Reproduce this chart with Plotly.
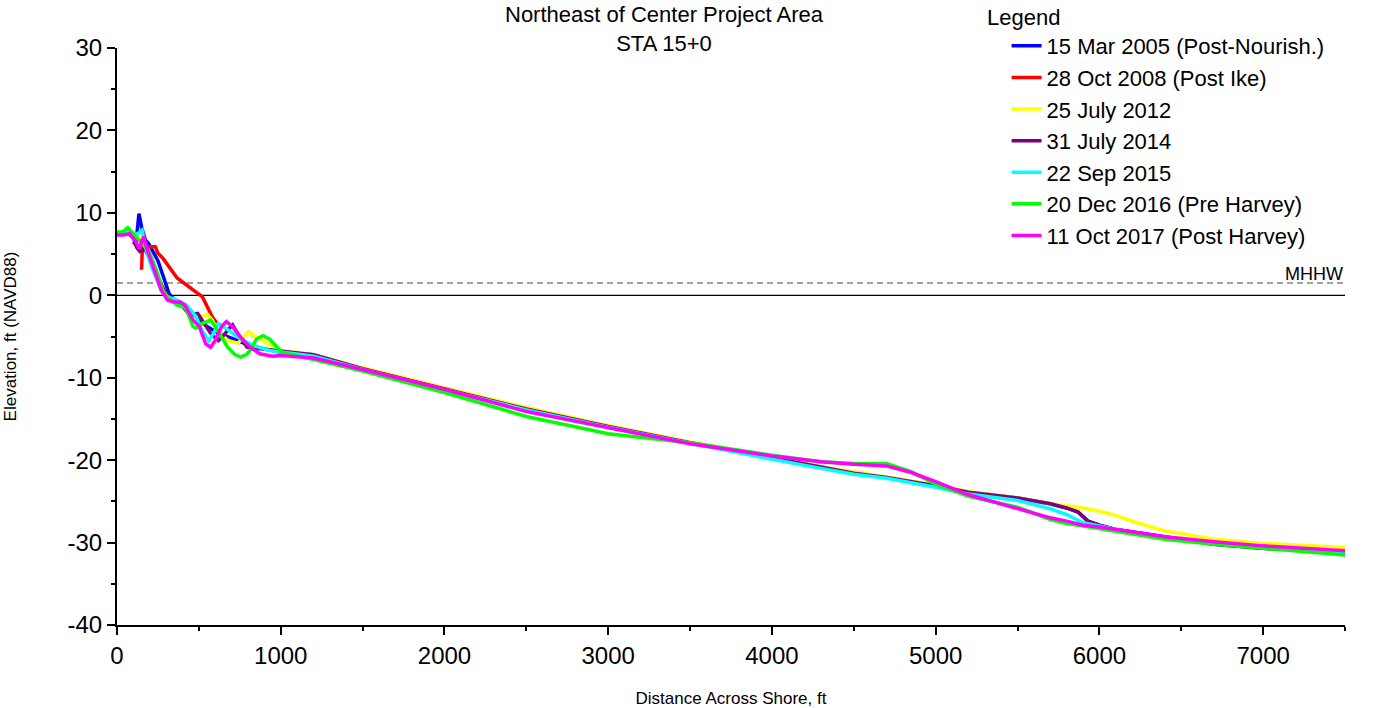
import plotly.graph_objects as go

# ---------------- data ----------------
names = ["15 Mar 2005 (Post-Nourish.)", "28 Oct 2008 (Post Ike)", "25 July 2012",
         "31 July 2014", "22 Sep 2015", "20 Dec 2016 (Pre Harvey)", "11 Oct 2017 (Post Harvey)"]
colors = ["#0000FF", "#FF0000", "#FFFF00", "#800080", "#00FFFF", "#00FF00", "#FF00FF"]

off_x = [1200, 1500, 2000, 2500, 3000, 3500, 4000, 4300, 4500, 4700, 4850, 5000, 5200,
         5500, 5700, 5800, 5900, 6000, 6100, 6200, 6400, 6700, 7000, 7500]

x2005 = [100, 115, 134, 151, 173, 192, 250, 289, 318, 360, 420, 480, 550, 620, 700, 800, 900, 1000,
         1200, 1500, 2000, 2500, 3000, 3500, 4000, 4300, 4500, 4700, 4850, 5000, 5200, 5500,
         5700, 5800, 5870, 5930, 6000, 6100, 6200, 6400, 6700, 7000, 7500]
y2005 = [6.5, 6.1, 9.9, 8.2, 6.7, 6.3, 4.2, 1.8, 0.2, -0.8, -1.5, -2.5, -3.8, -4.6, -5.2, -6.0, -6.5, -6.9,
         -7.2, -8.9, -11.3, -13.8, -15.9, -17.9, -19.7, -20.9, -21.6, -22.1, -22.6, -23.1, -23.9,
         -24.6, -25.3, -25.8, -26.3, -27.4, -27.9, -28.4, -28.7, -29.3, -30.2, -30.7, -31.1]

x2008 = [150, 155, 192, 234, 250, 280, 367, 440, 483, 522, 581, 610]
y2008 = [3.1, 5.8, 5.9, 5.9, 5.1, 4.5, 2.1, 1.0, 0.4, -0.2, -2.6, -3.4]

x2012 = [0, 60, 120, 160, 192, 230, 270, 309, 367, 425, 483, 520, 551, 581, 620, 680, 740, 780,
         804, 833, 870, 910, 1000] + off_x
y2012 = [7.5, 7.7, 7.2, 6.5, 4.6, 2.5, 0.6, -0.3, -0.8, -1.4, -2.4, -2.6, -2.3, -3.0, -4.5, -5.5,
         -5.8, -5.0, -4.4, -4.9, -5.2, -5.8, -6.7,
         -7.2, -8.8, -11.2, -13.6, -15.8, -17.8, -19.6, -20.8, -21.4, -22.0, -22.5, -23.0, -23.8,
         -24.6, -25.3, -25.5, -25.8, -26.2, -26.7, -27.4, -28.6, -29.6, -30.1, -30.6]

x2014 = [0, 60, 100, 120, 140, 170, 200, 240, 289, 330, 380, 445, 493, 542, 571, 619, 650, 678,
         706, 736, 794, 872, 1000,
         1200, 1500, 2000, 2500, 3000, 3500, 4000, 4300, 4500, 4700, 4850, 5000, 5200, 5500,
         5700, 5800, 5870, 5930, 6000, 6100, 6200, 6400, 6700, 7000, 7500]
y2014 = [7.4, 7.6, 7.0, 5.8, 5.3, 5.6, 4.5, 2.5, 0.6, -0.4, -0.9, -2.4, -2.2, -3.8, -4.6, -5.5,
         -4.9, -4.2, -3.6, -4.6, -6.3, -6.5, -6.8,
         -7.2, -8.9, -11.3, -13.8, -15.9, -17.9, -19.7, -20.9, -21.6, -22.1, -22.6, -23.1, -23.9,
         -24.6, -25.3, -25.8, -26.3, -27.4, -27.9, -28.4, -28.7, -29.3, -30.2, -30.7, -31.1]

x2015 = [0, 60, 120, 153, 173, 212, 270, 309, 367, 425, 483, 520, 561, 590, 619, 650, 678, 755,
         833, 930, 1000] + off_x
y2015 = [7.6, 7.8, 7.4, 7.9, 5.9, 3.4, 0.6, -0.2, -0.6, -1.2, -2.6, -4.3, -5.5, -4.6, -3.4, -3.8,
         -4.2, -5.3, -6.1, -6.7, -6.9,
         -7.4, -9.0, -11.4, -13.9, -16.0, -18.0, -19.9, -21.0, -21.7, -22.2, -22.7, -23.3, -24.1,
         -24.9, -25.9, -26.6, -27.6, -28.0, -28.4, -28.8, -29.4, -30.1, -30.6, -31.1]

x2016 = [0, 30, 66, 95, 134, 192, 241, 280, 309, 367, 406, 425, 464, 483, 522, 550, 571, 600,
         640, 676, 720, 755, 790, 813, 852, 891, 930, 970, 1008] + off_x
y2016 = [7.7, 7.6, 8.2, 7.5, 6.7, 5.5, 3.0, 0.6, -0.2, -1.2, -1.4, -1.8, -3.8, -4.0, -3.4, -3.2,
         -3.0, -3.8, -5.2, -6.3, -7.2, -7.5, -7.2, -6.7, -5.3, -4.9, -5.3, -6.2, -6.9,
         -7.8, -9.2, -11.8, -14.7, -16.8, -17.9, -19.4, -20.2, -20.4, -20.4, -21.4, -22.9, -24.4,
         -25.7, -27.2, -27.7, -28.0, -28.3, -28.7, -29.0, -29.6, -30.2, -30.7, -31.5]

x2017 = [0, 40, 76, 115, 134, 163, 192, 231, 270, 309, 348, 386, 415, 464, 503, 542, 571, 600,
         639, 668, 706, 755, 813, 872, 949, 1000] + off_x
y2017 = [7.3, 7.3, 7.5, 6.5, 5.7, 7.1, 5.1, 2.7, 0.6, -0.6, -0.8, -0.8, -1.2, -3.0, -3.8, -5.9,
         -6.3, -5.5, -3.8, -3.2, -3.8, -5.1, -6.3, -7.1, -7.4, -7.3,
         -7.6, -9.0, -11.4, -14.1, -16.1, -18.0, -19.5, -20.2, -20.5, -20.7, -21.5, -22.6, -24.2,
         -25.9, -27.0, -27.4, -27.9, -28.1, -28.4, -28.7, -29.3, -29.9, -30.4, -31.0]

xs = [x2005, x2008, x2012, x2014, x2015, x2016, x2017]
ys = [y2005, y2008, y2012, y2014, y2015, y2016, y2017]

mhhw = 1.49
x_range = [0, 7500]
y_range = [-40, 30]
x_ticks = [0, 1000, 2000, 3000, 4000, 5000, 6000, 7000]
y_ticks = [-40, -30, -20, -10, 0, 10, 20, 30]
y_ticktext = ["-40", "-30", "-20", "-10", "0", "10", "20", "30"]

# ---------------- figure ----------------
fig = go.Figure()

fig.add_trace(go.Scatter(x=x_range, y=[0, 0], mode="lines",
                         line=dict(color="black", width=1.2), showlegend=False, hoverinfo="skip"))
fig.add_trace(go.Scatter(x=x_range, y=[mhhw, mhhw], mode="lines",
                         line=dict(color="#444444", width=1, dash="6px,4px"),
                         showlegend=False, hoverinfo="skip"))

for n, c, x, y in zip(names, colors, xs, ys):
    fig.add_trace(go.Scatter(x=x, y=y, mode="lines", name=n,
                             line=dict(color=c, width=3.5)))

font_family = "Liberation Sans, Arial, sans-serif"

fig.update_layout(
    width=1377, height=708,
    paper_bgcolor="white", plot_bgcolor="white",
    margin=dict(l=117, r=32, t=48, b=83, autoexpand=False),
    font=dict(family=font_family, color="black", size=20),
    showlegend=True,
    legend=dict(
        x=0.7244, y=1.0398, xanchor="left", yanchor="top",
        bgcolor="rgba(255,255,255,0)",
        font=dict(size=22, family=font_family),
        tracegroupgap=0,
    ),
    annotations=[
        dict(text="Northeast of Center Project Area<br>STA 15+0", x=0.446, y=1.0832,
             xref="paper", yref="paper", showarrow=False, font=dict(size=22),
             xanchor="center", yanchor="top", align="center"),
        dict(text="Legend", x=0.7068, y=1.0537, xref="paper", yref="paper",
             showarrow=False, font=dict(size=22), xanchor="left", yanchor="middle"),
        dict(text="MHHW", x=7500, y=mhhw, xref="x", yref="y", showarrow=False,
             font=dict(size=18), xanchor="right", yanchor="bottom", yshift=-3),
    ],
)

fig.update_xaxes(
    range=x_range, tickvals=x_ticks, ticks="outside", ticklen=8, tickwidth=2, tickcolor="black",
    showline=True, linecolor="black", linewidth=2, showgrid=False, zeroline=False,
    minor=dict(dtick=500, ticks="outside", ticklen=4, tickwidth=2, tickcolor="black", showgrid=False),
    tickfont=dict(size=24),
    title=dict(text="Distance Across Shore, ft", font=dict(size=17), standoff=24),
)
fig.update_yaxes(
    range=y_range, tickvals=y_ticks, ticktext=y_ticktext, ticks="outside", ticklen=8, tickwidth=2,
    tickcolor="black",
    showline=True, linecolor="black", linewidth=2, showgrid=False, zeroline=False,
    minor=dict(dtick=5, ticks="outside", ticklen=4, tickwidth=2, tickcolor="black", showgrid=False),
    tickfont=dict(size=24),
    title=dict(text="Elevation, ft (NAVD88)", font=dict(size=17), standoff=47),
)

fig.write_html("out.html", config={"displayModeBar": False},
               post_script="document.body.style.margin='0';document.body.style.overflow='hidden';")
